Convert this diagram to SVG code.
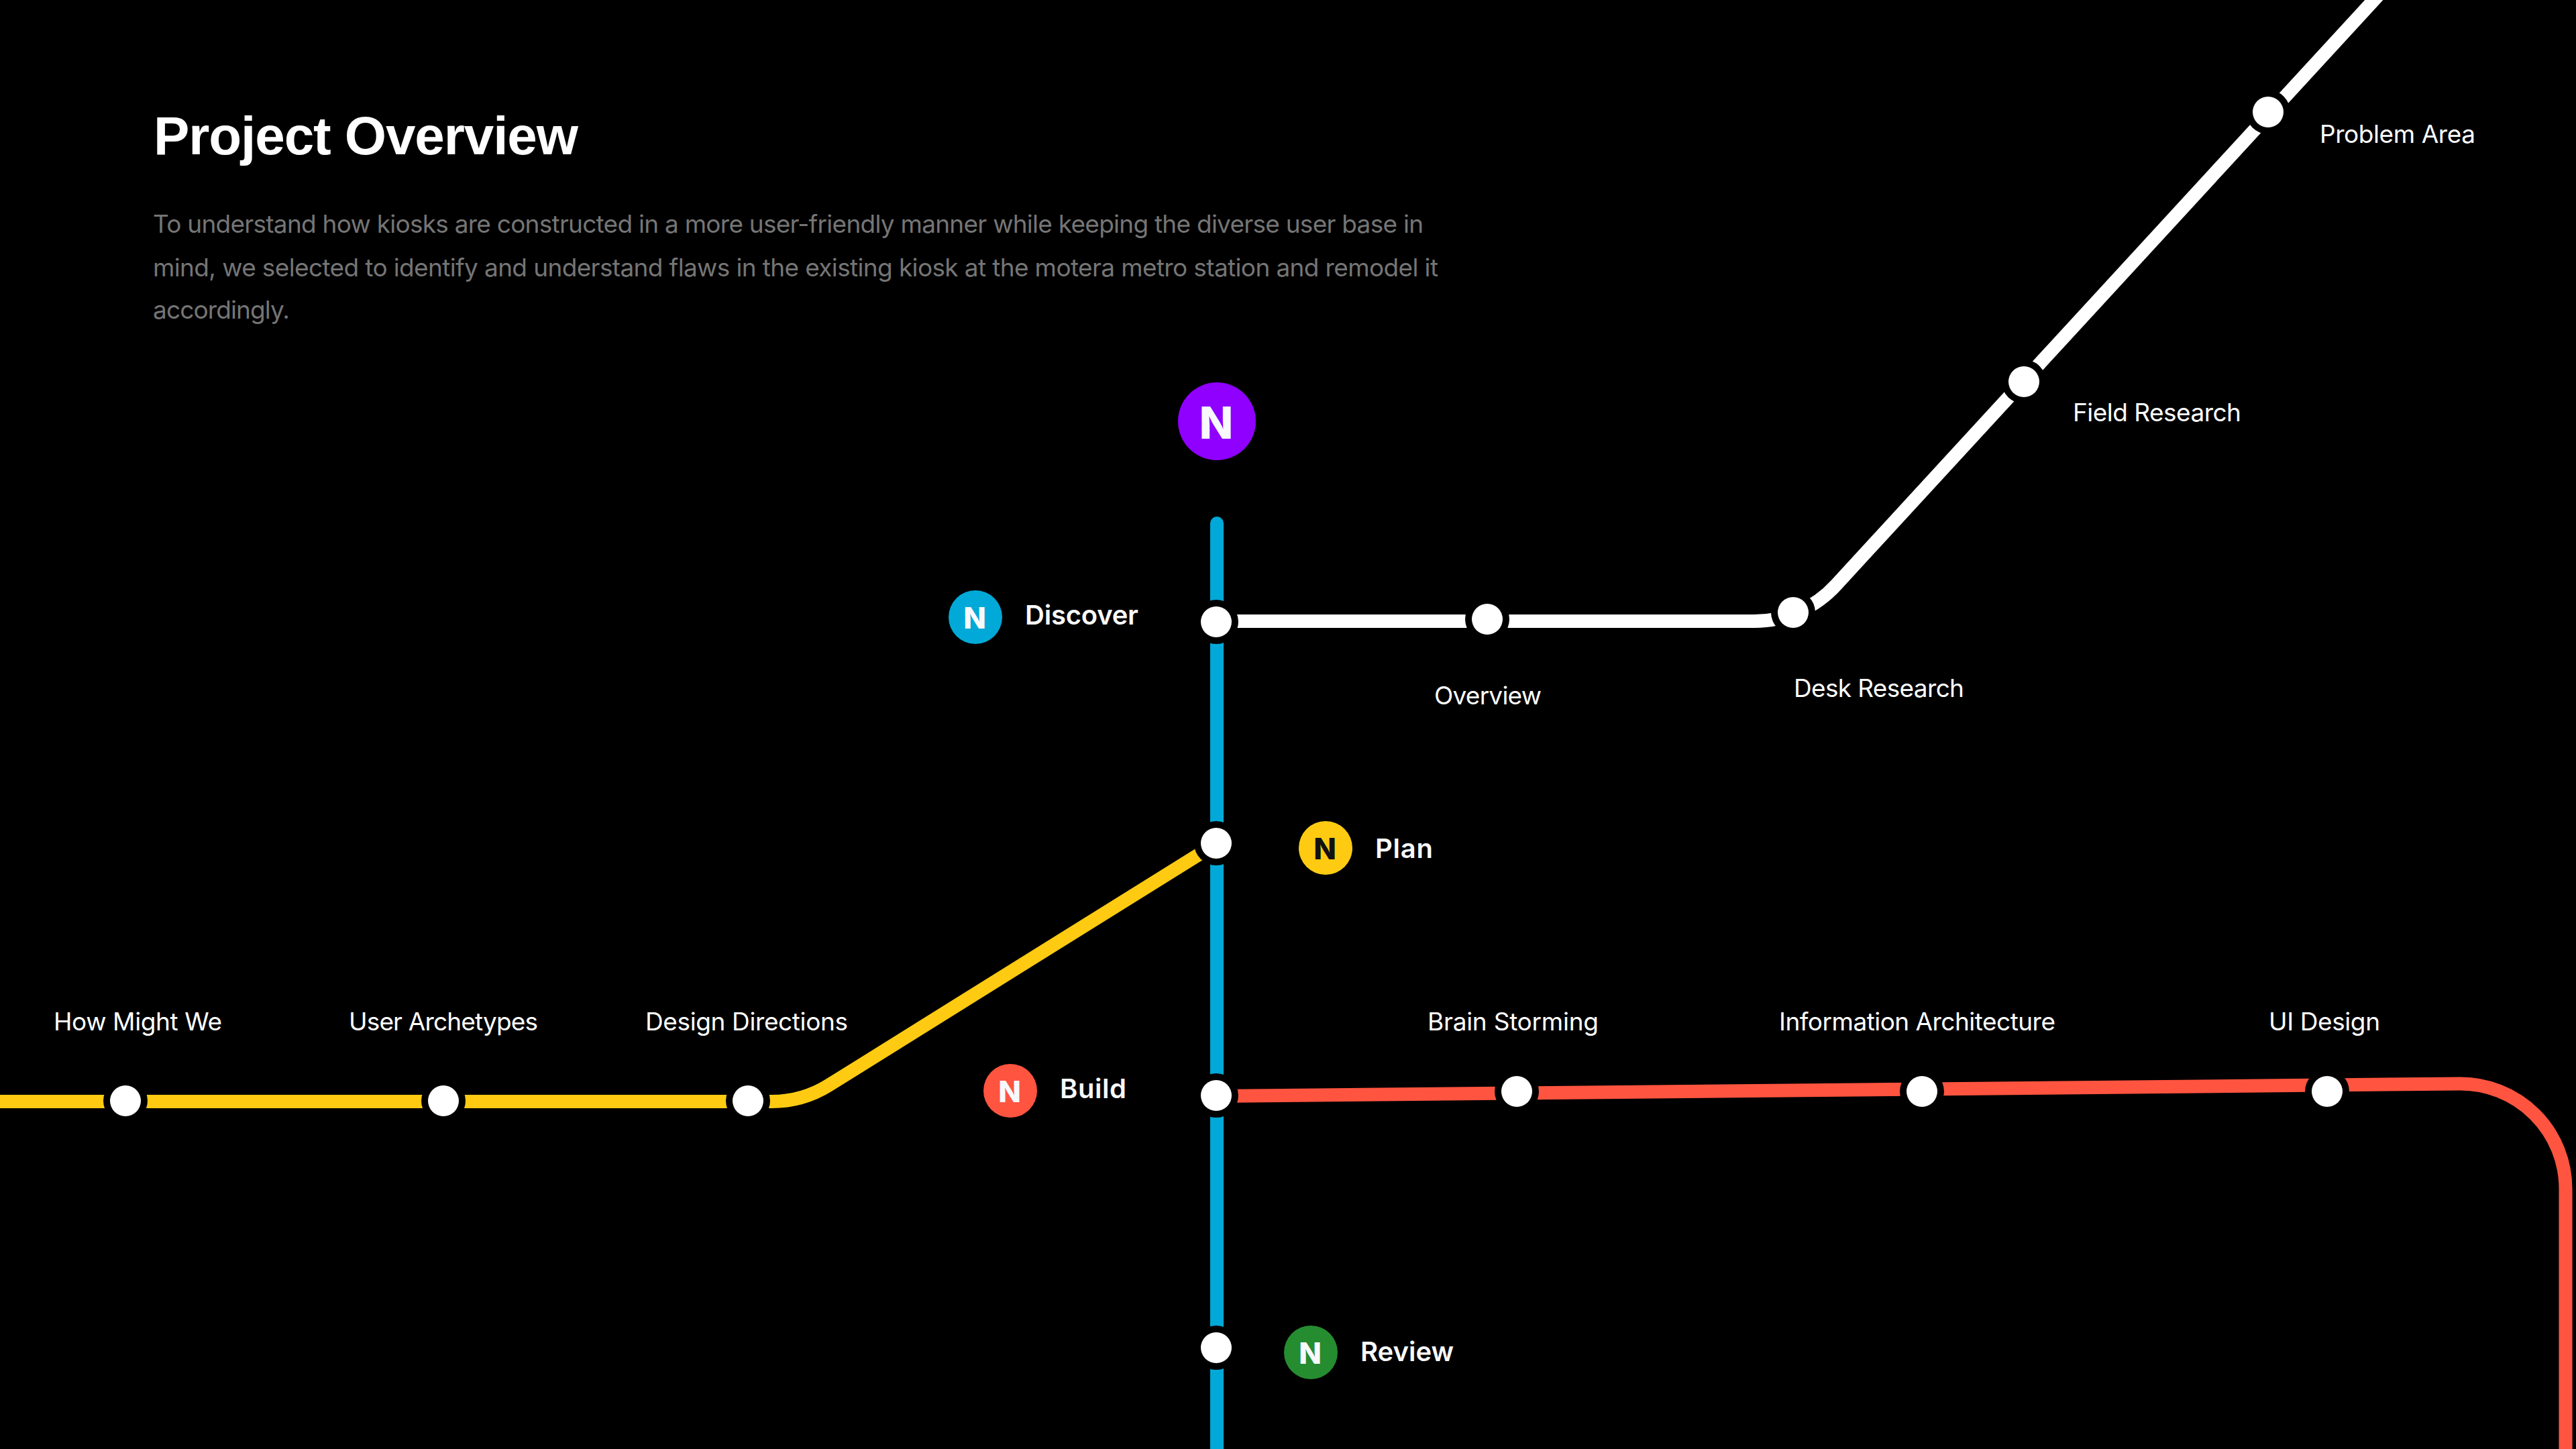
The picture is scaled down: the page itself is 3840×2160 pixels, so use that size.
<svg xmlns="http://www.w3.org/2000/svg" width="3840" height="2160" viewBox="0 0 3840 2160">
<style>
text{font-family:"Inter","Liberation Sans",sans-serif}
.ln{fill:none;stroke-width:20}
.halo{fill:#000}
.dot{fill:#fff}
.lbl{font-size:37px;fill:#fff}
.leg{font-size:40px;font-weight:600;fill:#f8f9fb}
.n{font-size:44px;font-weight:800;text-anchor:middle;fill:#f8f9fb}
.body{font-size:37px;fill:#757575}
</style>
<rect width="3840" height="2160" fill="#000"/>
<g id="intro">
<text x="229" y="230" font-size="80" font-weight="700" fill="#fff" textLength="633" style="font-family:'Liberation Sans',sans-serif">Project Overview</text>
<text class="body" x="228" y="347" textLength="1894">To understand how kiosks are constructed in a more user-friendly manner while keeping the diverse user base in</text>
<text class="body" x="228" y="412" textLength="1916">mind, we selected to identify and understand flaws in the existing kiosk at the motera metro station and remodel it</text>
<text class="body" x="228" y="475" textLength="204">accordingly.</text>
</g>
<g id="connectors">
<path class="ln" stroke="#00a9d8" stroke-linecap="round" d="M1814 780V2170"/>
<path class="ln" stroke="#fff" d="M1814 926H2615A166 166 0 0 0 2737 872L3560 -23"/>
<path class="ln" stroke="#ffcb12" d="M-10 1642H1150A160 160 0 0 0 1235 1618L1814 1257"/>
<path class="ln" stroke="#ff5440" d="M1814 1634L3668 1615.500A156.500 156.500 0 0 1 3824.500 1772V2170"/>
</g>
<g id="node-line"><circle cx="1814" cy="628" r="58" fill="#8f00ff"/><text x="1813" y="654" font-size="66" font-weight="800" text-anchor="middle" fill="#f8f9fb">N</text></g>
<g id="node-discover"><circle class="halo" cx="1813" cy="927" r="33"/><circle class="dot" cx="1813" cy="927" r="23"/></g>
<g id="node-plan"><circle class="halo" cx="1813" cy="1257" r="33"/><circle class="dot" cx="1813" cy="1257" r="23"/></g>
<g id="node-build"><circle class="halo" cx="1813" cy="1633" r="33"/><circle class="dot" cx="1813" cy="1633" r="23"/></g>
<g id="node-review"><circle class="halo" cx="1813" cy="2009" r="33"/><circle class="dot" cx="1813" cy="2009" r="23"/></g>
<g id="legend-discover"><circle cx="1454" cy="920" r="40" fill="#00a9d8"/><text class="n" x="1453" y="937">N</text><text class="leg" x="1528" y="931" textLength="169">Discover</text></g>
<g id="legend-plan"><circle cx="1976" cy="1264" r="40" fill="#ffcb12"/><text class="n" x="1975" y="1281" style="fill:#111">N</text><text class="leg" x="2050" y="1279" textLength="86">Plan</text></g>
<g id="legend-build"><circle cx="1506" cy="1626" r="40" fill="#ff5440"/><text class="n" x="1505" y="1643">N</text><text class="leg" x="1580" y="1637" textLength="99">Build</text></g>
<g id="legend-review"><circle cx="1954" cy="2016" r="40" fill="#268c30"/><text class="n" x="1953" y="2033">N</text><text class="leg" x="2028" y="2029" textLength="139">Review</text></g>
<g id="node-overview"><circle class="halo" cx="2217" cy="923" r="33"/><circle class="dot" cx="2217" cy="923" r="23"/><text class="lbl" x="2138" y="1050" textLength="160">Overview</text></g>
<g id="node-desk"><circle class="halo" cx="2673" cy="913" r="33"/><circle class="dot" cx="2673" cy="913" r="23"/><text class="lbl" x="2674" y="1039" textLength="254">Desk Research</text></g>
<g id="node-field"><circle class="halo" cx="3017" cy="569" r="33"/><circle class="dot" cx="3017" cy="569" r="23"/><text class="lbl" x="3090" y="628" textLength="251">Field Research</text></g>
<g id="node-problem"><circle class="halo" cx="3381" cy="167" r="33"/><circle class="dot" cx="3381" cy="167" r="23"/><text class="lbl" x="3458" y="213" textLength="232">Problem Area</text></g>
<g id="node-hmw"><circle class="halo" cx="187" cy="1641" r="33"/><circle class="dot" cx="187" cy="1641" r="23"/><text class="lbl" x="80" y="1536" textLength="251">How Might We</text></g>
<g id="node-archetypes"><circle class="halo" cx="661" cy="1641" r="33"/><circle class="dot" cx="661" cy="1641" r="23"/><text class="lbl" x="520" y="1536" textLength="282">User Archetypes</text></g>
<g id="node-directions"><circle class="halo" cx="1115" cy="1641" r="33"/><circle class="dot" cx="1115" cy="1641" r="23"/><text class="lbl" x="962" y="1536" textLength="302">Design Directions</text></g>
<g id="node-brain"><circle class="halo" cx="2261" cy="1627" r="33"/><circle class="dot" cx="2261" cy="1627" r="23"/><text class="lbl" x="2128" y="1536" textLength="255">Brain Storming</text></g>
<g id="node-ia"><circle class="halo" cx="2865" cy="1627" r="33"/><circle class="dot" cx="2865" cy="1627" r="23"/><text class="lbl" x="2652" y="1536" textLength="412">Information Architecture</text></g>
<g id="node-ui"><circle class="halo" cx="3469" cy="1627" r="33"/><circle class="dot" cx="3469" cy="1627" r="23"/><text class="lbl" x="3382" y="1536" textLength="166">UI Design</text></g>
</svg>
